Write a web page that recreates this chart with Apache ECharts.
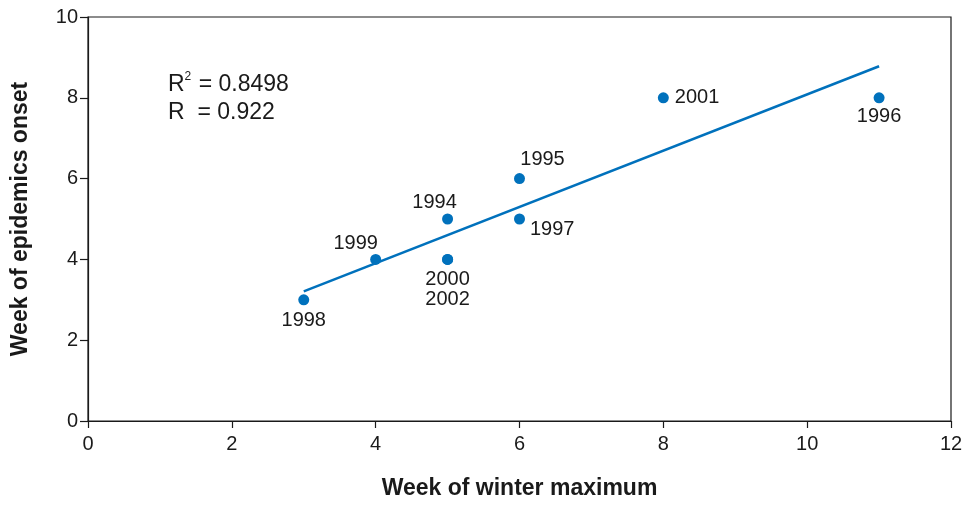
<!DOCTYPE html>
<html>
<head>
<meta charset="utf-8">
<script src="https://cdn.jsdelivr.net/npm/echarts@6/dist/echarts.min.js"></script>
<style>html,body{margin:0;padding:0;background:#fff}#c{width:967px;height:505px}</style>
</head>
<body>
<div id="c"></div>
<script>
// Data
const years   = ['1994','1995','1996','1997','1998','1999','2000','2001','2002'];
const winterMax = [5, 6, 11, 6, 3, 4, 5, 8, 5];
const epidOnset = [5, 6, 8, 5, 3, 4, 4, 8, 4];
const fitLine = [[3, 3.21], [11, 8.78]];
const xTicks = [0, 2, 4, 6, 8, 10, 12];
const yTicks = [0, 2, 4, 6, 8, 10];
const statsText = ['R{sup|2} = 0.8498', 'R  = 0.922'];

// Label placement (style only)
const labelStyle = {
  '1994': {position: 'top', distance: 1, offset: [-13, 0]},
  '1995': {position: 'top', distance: 4, offset: [23, 0]},
  '1996': {position: 'bottom', distance: 3},
  '1997': {position: 'right', distance: 5, offset: [0, 10]},
  '1998': {position: 'bottom', distance: 5},
  '1999': {position: 'top', distance: 0, offset: [-20, 0]},
  '2000': {position: 'bottom', distance: 5},
  '2001': {position: 'right', distance: 6},
  '2002': {position: 'bottom', distance: 25}
};

const blue = '#0071bc';
const ink = '#1a1a1a';
const font = 'Liberation Sans, Arial, Helvetica, sans-serif';

const points = years.map((y, i) => ({
  name: y,
  value: [winterMax[i], epidOnset[i]],
  label: Object.assign({show: true, formatter: y, color: ink, opacity: 1, fontSize: 20, fontFamily: font}, labelStyle[y])
}));

const chart = echarts.init(document.getElementById('c'), null, {renderer: 'canvas'});
chart.setOption({
  animation: false,
  backgroundColor: '#fff',
  grid: {left: 88, right: 16, top: 17, bottom: 81, show: true, borderColor: ink, borderWidth: 1.2, backgroundColor: 'transparent'},
  xAxis: {
    type: 'value', min: xTicks[0], max: xTicks[xTicks.length - 1], interval: 2,
    name: 'Week of winter maximum', nameLocation: 'middle', nameGap: 56,
    nameTextStyle: {fontSize: 23, fontWeight: 'bold', color: ink, fontFamily: font},
    axisLine: {show: true, lineStyle: {color: ink, width: 1.2}},
    axisTick: {show: true, length: 7, lineStyle: {color: ink, width: 1.2}},
    axisLabel: {fontSize: 20, color: ink, margin: 13, fontFamily: font},
    splitLine: {show: false}
  },
  yAxis: {
    type: 'value', min: yTicks[0], max: yTicks[yTicks.length - 1], interval: 2,
    name: 'Week of epidemics onset', nameLocation: 'middle', nameGap: 56,
    nameTextStyle: {fontSize: 23, fontWeight: 'bold', color: ink, fontFamily: font},
    axisLine: {show: true, lineStyle: {color: ink, width: 1.2}},
    axisTick: {show: true, length: 8, lineStyle: {color: ink, width: 1.2}},
    axisLabel: {fontSize: 20, color: ink, margin: 10, fontFamily: font},
    splitLine: {show: false}
  },
  graphic: [{
    type: 'text', left: 168, top: 71,
    style: {
      text: statsText.join('\n'),
      fill: ink, font: '23px ' + font, lineHeight: 28,
      rich: {sup: {fontSize: 12, verticalAlign: 'top', padding: [0, 1, 10, 0], fill: ink, fontFamily: font}}
    }
  }],
  series: [
    {
      type: 'line', data: fitLine, showSymbol: false, silent: true,
      lineStyle: {color: blue, width: 2.5}, z: 1
    },
    {
      type: 'scatter', data: points, symbol: 'circle', symbolSize: 11,
      itemStyle: {color: blue, opacity: 1}, z: 2
    }
  ]
});
</script>
</body>
</html>
